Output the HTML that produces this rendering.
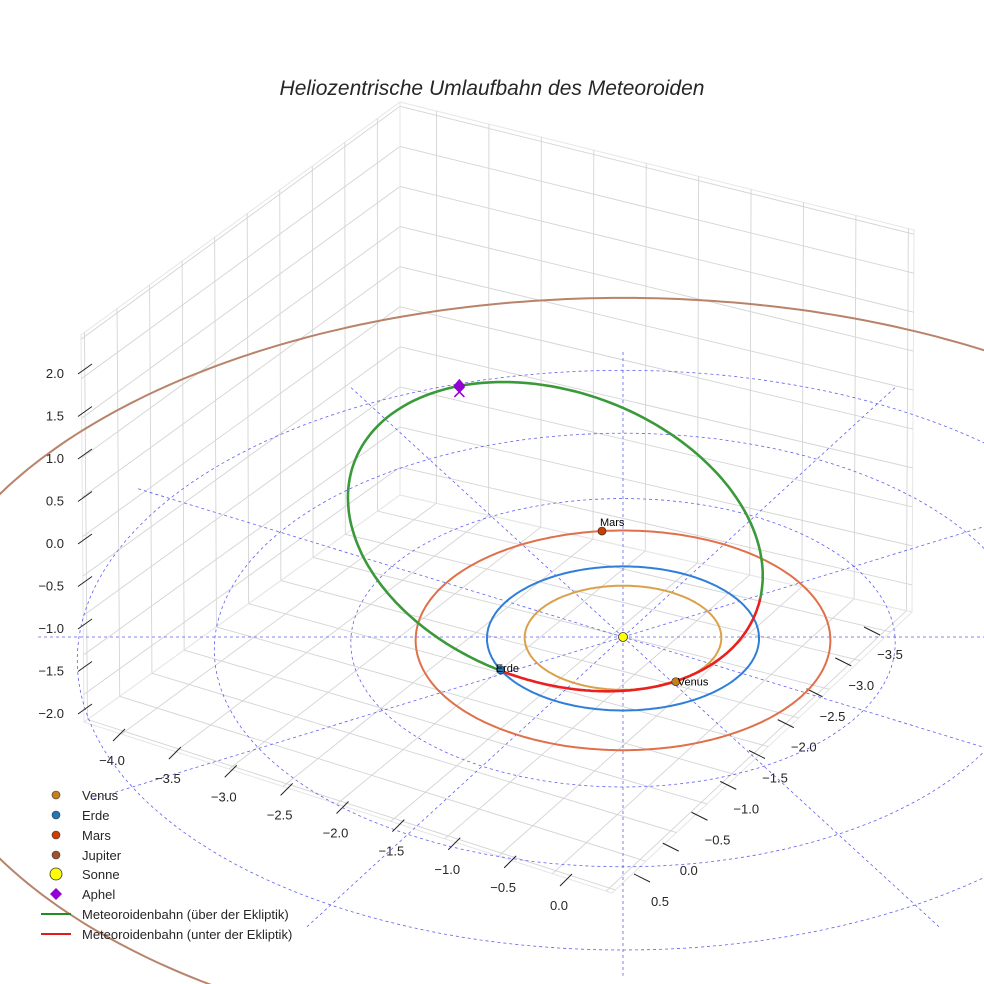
<!DOCTYPE html>
<html><head><meta charset="utf-8"><style>
html,body{margin:0;padding:0;background:#fff;overflow:hidden;}
svg{display:block;font-family:"Liberation Sans",sans-serif;}
</style></head><body>
<svg id="chart" width="984" height="984" viewBox="0 0 984 984">
<rect x="0" y="0" width="984" height="984" fill="#fff"/>
<g id="panes"></g>
<g id="ticks"></g>
<g id="eclgrid"></g>
<g id="orbits"></g>
<g id="marks"></g>
<text x="492" y="95" text-anchor="middle" font-size="21" font-style="italic" fill="#262626">Heliozentrische Umlaufbahn des Meteoroiden</text>
<g id="legend" font-size="13" fill="#262626">
  <g><circle cx="56" cy="795" r="4" fill="#c67f1a" stroke="#333" stroke-width="0.6"/><text x="82" y="800">Venus</text></g>
  <g><circle cx="56" cy="815" r="4" fill="#1f77b4" stroke="#333" stroke-width="0.6"/><text x="82" y="820">Erde</text></g>
  <g><circle cx="56" cy="835" r="4" fill="#cc3d00" stroke="#333" stroke-width="0.6"/><text x="82" y="840">Mars</text></g>
  <g><circle cx="56" cy="855" r="4" fill="#a0522d" stroke="#333" stroke-width="0.6"/><text x="82" y="860">Jupiter</text></g>
  <g><circle cx="56" cy="874" r="6" fill="#ffff00" stroke="#333" stroke-width="0.8"/><text x="82" y="879">Sonne</text></g>
  <g><path d="M56 888 L62 894 L56 900 L50 894 Z" fill="#9400d3"/><text x="82" y="899">Aphel</text></g>
  <g><line x1="41" y1="914" x2="71" y2="914" stroke="#228b22" stroke-width="2"/><text x="82" y="919">Meteoroidenbahn (über der Ekliptik)</text></g>
  <g><line x1="41" y1="934" x2="71" y2="934" stroke="#e31a1c" stroke-width="2"/><text x="82" y="939">Meteoroidenbahn (unter der Ekliptik)</text></g>
</g>
</svg>
<script>
// ---- data ----
const planetNames = ["Venus","Erde","Mars","Jupiter"];
const planetRadii = [0.723, 1.0, 1.524, 5.2];
const planetAngles = [-58, 207, 96, null];
const planetOrbitColors = ["#d9a24a","#2f7fd8","#e0704a","#b8836a"];
const planetDotColors = ["#c67f1a","#1f77b4","#cc3d00","#a0522d"];
// meteoroid orbital elements: p (semi-latus rectum), e, inclination, node, argument of aphelion
const meteorElements = [1.072, 0.69, 8, 28, 84];
const ringRadii = [1, 2, 3, 4];
const spokeAngles = [0,30,60,90,120,150,180,210,240,270,300,330];
const xTicks = ["−4.0","−3.5","−3.0","−2.5","−2.0","−1.5","−1.0","−0.5","0.0"];
const yTicks = ["0.5","0.0","−0.5","−1.0","−1.5","−2.0","−2.5","−3.0","−3.5"];
const zTicks = ["2.0","1.5","1.0","0.5","0.0","−0.5","−1.0","−1.5","−2.0"];

const NS="http://www.w3.org/2000/svg";
const CX=623, CY=637;
function P(x,y,z){const g=1/(1+0.02*y);return [CX+136*x*g, CY-(72*y+80*z)*g];}
function mk(tag,attrs,parent){const e=document.createElementNS(NS,tag);for(const k in attrs)e.setAttribute(k,attrs[k]);parent.appendChild(e);return e;}
function pathFrom(pts){return pts.map((p,i)=>(i?"L":"M")+p[0].toFixed(1)+" "+p[1].toFixed(1)).join(" ");}
const L=(a,b,t)=>[a[0]+(b[0]-a[0])*t,a[1]+(b[1]-a[1])*t];

// ---- box panes ----
const TB=[400,102],TL=[81,335],TR=[914,230],BB=[400,495],BL=[84,722],BR=[912,612],FR=[612,893];
const gridT=[];for(let k=0;k<10;k++)gridT.push(0.071+0.102*k);
const panes=document.getElementById('panes');
function pane(p00,p10,p01,p11,nm){
  const bil=(u,v)=>L(L(p00,p10,u),L(p01,p11,u),v);
  let d="M"+p00+" L"+p10+" L"+p11+" L"+p01+" Z";
  let e=mk('path',{d:d,fill:"none",stroke:"#e6e6e6","stroke-width":1},panes);
  
  
  gridT.forEach(t=>{
    const a=bil(t,0),b=bil(t,1);
    let l=mk('line',{x1:a[0],y1:a[1],x2:b[0],y2:b[1],stroke:"#d4d4d4","stroke-width":0.9},panes);
    
    
    const c=bil(0,t),dd=bil(1,t);
    l=mk('line',{x1:c[0],y1:c[1],x2:dd[0],y2:dd[1],stroke:"#d4d4d4","stroke-width":0.9},panes);
    
    
  });
}
pane(BB,BL,TB,TL,'left-pane');
pane(BB,BR,TB,TR,'right-pane');
pane(BB,BL,BR,FR,'floor-pane');

// ---- ticks ----
const tk=document.getElementById('ticks');
function tickAxis(labels,p0,p1,dx,dy,off,anchor,nm){
  labels.forEach((lab,i)=>{
    const p=L(p0,p1,i/(labels.length-1));
    let l=mk('line',{x1:p[0]-dx,y1:p[1]-dy,x2:p[0]+dx,y2:p[1]+dy,stroke:"#222","stroke-width":1},tk);
    
    
    let t=mk('text',{x:p[0]+off[0],y:p[1]+off[1],"text-anchor":anchor,"font-size":13,fill:"#262626"},tk);
    t.textContent=lab;
    
    
  });
}
tickAxis(xTicks,[119,735],[566,880],-6,6,[-7,30],"middle",'x-axis');
tickAxis(yTicks,[642,878],[872,631],8,4,[18,28],"middle",'y-axis');
tickAxis(zTicks,[85,369],[85,709],7,-5,[-21,9],"end",'z-axis');

// ---- ecliptic dashed grid ----
const eg=document.getElementById('eclgrid');
ringRadii.forEach(r=>{
  const pts=[];for(let a=0;a<=360;a+=2){const t=a*Math.PI/180;pts.push(P(r*Math.cos(t),r*Math.sin(t),0));}
  const e=mk('path',{d:pathFrom(pts),fill:"none",stroke:"#4444ee","stroke-width":0.8,"stroke-dasharray":"3,3",opacity:0.85},eg);
  
  
});
spokeAngles.forEach(a=>{
  const t=a*Math.PI/180;const p0=P(0,0,0),p1=P(4.3*Math.cos(t),4.3*Math.sin(t),0);
  const e=mk('line',{x1:p0[0],y1:p0[1],x2:p1[0],y2:p1[1],stroke:"#4444ee","stroke-width":0.8,"stroke-dasharray":"3,3",opacity:0.85},eg);
  
  
});

// ---- planet orbits ----
const og=document.getElementById('orbits');
planetRadii.forEach((r,i)=>{
  const pts=[];for(let a=0;a<=360;a+=1){const t=a*Math.PI/180;pts.push(P(r*Math.cos(t),r*Math.sin(t),0));}
  const e=mk('path',{d:pathFrom(pts),fill:"none",stroke:planetOrbitColors[i],"stroke-width":2},og);
  
  
});

// ---- meteoroid orbit ----
const [mp,me,mi,mO,mw]=meteorElements;
const rad=Math.PI/180;
function met(phi){
  const r=mp/(1+me*Math.cos((phi-(mw-180))*rad));
  const I=mi*rad,O=mO*rad,f=phi*rad;
  return [r*(Math.cos(O)*Math.cos(f)-Math.sin(O)*Math.sin(f)*Math.cos(I)),
          r*(Math.sin(O)*Math.cos(f)+Math.cos(O)*Math.sin(f)*Math.cos(I)),
          r*Math.sin(f)*Math.sin(I)];
}
const up=[],dn=[];
for(let a=0;a<=180;a+=1){const q=met(a);up.push(P(q[0],q[1],q[2]));}
for(let a=180;a<=360;a+=1){const q=met(a);dn.push(P(q[0],q[1],q[2]));}
let e=mk('path',{d:pathFrom(up),fill:"none",stroke:"#3a9a3a","stroke-width":2.6},og);


e=mk('path',{d:pathFrom(dn),fill:"none",stroke:"#e8211e","stroke-width":2.6},og);



// ---- bodies ----
const mg=document.getElementById('marks');
planetAngles.forEach((a,i)=>{
  if(a===null)return;
  const r=planetRadii[i],t=a*rad;const p=P(r*Math.cos(t),r*Math.sin(t),0);
  let c=mk('circle',{cx:p[0],cy:p[1],r:4,fill:planetDotColors[i],stroke:"#333","stroke-width":0.7},mg);
  
  
  let tx=mk('text',{x:p[0]-2,y:p[1]-5,"font-size":11,fill:"#000"},mg);
  if(planetNames[i]==="Venus"){tx.setAttribute('x',p[0]+2);tx.setAttribute('y',p[1]+4);}
  if(planetNames[i]==="Erde"){tx.setAttribute('x',p[0]-5);tx.setAttribute('y',p[1]+2);}
  tx.textContent=planetNames[i];
  
  
});
const s=P(0,0,0);
let sun=mk('circle',{cx:s[0],cy:s[1],r:4.5,fill:"#ffff00",stroke:"#333","stroke-width":0.8},mg);


const ap=met(mw),apS=P(ap[0],ap[1],ap[2]);
let ax=mk('path',{d:`M${apS[0]-5} ${apS[1]+1} L${apS[0]+5} ${apS[1]+11} M${apS[0]+5} ${apS[1]+1} L${apS[0]-5} ${apS[1]+11}`,stroke:"#9400d3","stroke-width":1.5,fill:"none"},mg);


let ad=mk('path',{d:`M${apS[0]} ${apS[1]-7} L${apS[0]+6} ${apS[1]} L${apS[0]} ${apS[1]+7} L${apS[0]-6} ${apS[1]} Z`,fill:"#9400d3"},mg);


</script>
</body></html>
